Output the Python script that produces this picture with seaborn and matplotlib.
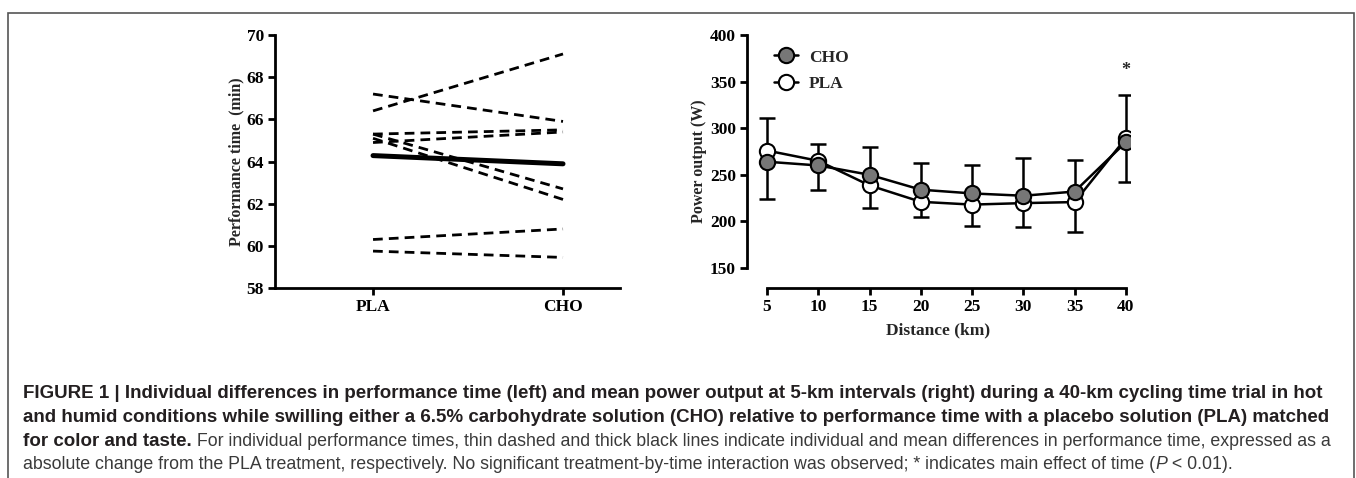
import seaborn as sns
import pandas as pd
import matplotlib.pyplot as plt
import numpy as np
from matplotlib.lines import Line2D
from matplotlib.patches import Rectangle

# left panel: individual performance times (min)
subjects = [1, 2, 3, 4, 5, 6, 7, 8]
pla_time = [66.4, 67.2, 65.3, 64.9, 65.3, 65.1, 60.3, 59.75]
cho_time = [69.1, 65.9, 65.5, 65.4, 62.7, 62.2, 60.8, 59.45]
conditions = ["PLA", "CHO"]
mean_time = [64.28, 63.89]

# right panel: mean power output (W) every 5 km
distance = [5, 10, 15, 20, 25, 30, 35, 40]
cho_power = [264, 260, 250, 234, 230, 227.5, 232, 285]
pla_power = [276, 265, 238.6, 221, 218, 219.6, 220.7, 289.3]
cho_sd = [40, 26, 30, 29, 31, 40, 34, 43]
pla_sd = [35, 18, 24.6, 16, 22.6, 25.6, 32, 46]

sns.set_theme(style="ticks")
plt.rcParams["font.family"] = ["Liberation Serif", "DejaVu Serif"]
plt.rcParams["font.weight"] = "bold"
plt.rcParams["axes.labelweight"] = "bold"

fig = plt.figure(figsize=(13.56, 4.78), dpi=100)
W, H = 1356, 478


def box(l, t, r, b):
    return [l / W, 1 - b / H, (r - l) / W, (b - t) / H]


# ---- left panel
ax1 = fig.add_axes(box(275, 35, 620, 288))
df = pd.DataFrame({
    "subject": subjects * 2,
    "condition": ["PLA"] * len(subjects) + ["CHO"] * len(subjects),
    "time": pla_time + cho_time,
})
sns.lineplot(data=df, x="condition", y="time", units="subject", estimator=None,
             color="black", linestyle=(0, (3.5, 2.2)), linewidth=2.0, ax=ax1)
sns.lineplot(x=conditions, y=mean_time, color="black", linewidth=3.6, ax=ax1)
ax1.set_xlim(-0.516, 1.3)
ax1.set_ylim(58, 70)
ax1.set_yticks(range(58, 71, 2))
ax1.set_xlabel("")
ax1.set_ylabel("Performance time  (min)", fontsize=11.5, labelpad=1)

# ---- right panel
ax2 = fig.add_axes(box(747, 35, 1130, 288))
cho = np.array(cho_power)
pla = np.array(pla_power)
for vals, sd, other in [(pla, np.array(pla_sd), cho), (cho, np.array(cho_sd), pla)]:
    lo = np.where(vals < other, sd, 0)
    hi = np.where(vals >= other, sd, 0)
    ax2.errorbar(distance, vals, yerr=[lo, hi], fmt="none", ecolor="black",
                 elinewidth=1.8, capsize=6, capthick=1.8, zorder=1)
sns.lineplot(x=distance, y=pla_power, color="black", linewidth=1.8, marker="o",
             markersize=11, markerfacecolor="white", markeredgecolor="black",
             markeredgewidth=1.5, ax=ax2, zorder=3)
sns.lineplot(x=distance, y=cho_power, color="black", linewidth=1.8, marker="o",
             markersize=11, markerfacecolor="#777777", markeredgecolor="black",
             markeredgewidth=1.5, ax=ax2, zorder=4)
ax2.set_xlim(3.05, 40.4)
ax2.set_ylim(128.5, 400)
ax2.set_yticks(range(150, 401, 50))
ax2.set_xticks(distance)
ax2.spines["left"].set_bounds(150, 400)
ax2.spines["bottom"].set_bounds(5, 40)
ax2.set_xlabel("Distance (km)", fontsize=12.5, labelpad=5)
ax2.set_ylabel("Power output (W)", fontsize=11.5, labelpad=2)
ax2.text(40, 362, "*", ha="center", va="center", fontsize=13, fontweight="bold")

handles = [
    Line2D([], [], color="black", lw=1.8, marker="o", markersize=11,
           markerfacecolor="#777777", markeredgecolor="black", markeredgewidth=1.5),
    Line2D([], [], color="black", lw=1.8, marker="o", markersize=11,
           markerfacecolor="white", markeredgecolor="black", markeredgewidth=1.5),
]
ax2.legend(handles, ["CHO", "PLA"], loc="upper left", bbox_to_anchor=(0.03, 1.005),
           frameon=False, handlelength=1.4, handletextpad=0.6, labelspacing=0.6,
           prop={"size": 12.5, "weight": "bold"})

for ax in (ax1, ax2):
    sns.despine(ax=ax)
    for s in ("left", "bottom"):
        ax.spines[s].set_linewidth(2)
        ax.spines[s].set_color("black")
    ax.tick_params(direction="out", length=5, width=2, colors="black",
                   labelsize=12.5, pad=3)
    for lab in ax.get_xticklabels() + ax.get_yticklabels():
        lab.set_fontweight("bold")

# ---- frame and caption
fig.add_artist(Rectangle((8 / W, -0.05), (1346 / W), 1.05 - 13 / H, transform=fig.transFigure,
                         fill=False, edgecolor="#555555", linewidth=1.2))

sans = ["Liberation Sans", "DejaVu Sans"]
fs_b = 13.5
fs_r = 12.8
bold_c = "#231f20"
reg_c = "#3a3a3a"
x0 = 23 / W
lines_y = [398, 422, 446, 469]
fig.text(x0, 1 - lines_y[0] / H,
         "FIGURE 1 | Individual differences in performance time (left) and mean power output at "
         "5-km intervals (right) during a 40-km cycling time trial in hot",
         fontweight="bold", color=bold_c, fontsize=fs_b, family=sans, va="baseline")
fig.text(x0, 1 - lines_y[1] / H,
         "and humid conditions while swilling either a 6.5% carbohydrate solution (CHO) relative "
         "to performance time with a placebo solution (PLA) matched",
         fontweight="bold", color=bold_c, fontsize=fs_b, family=sans, va="baseline")
t3 = fig.text(x0, 1 - lines_y[2] / H, "for color and taste.", fontweight="bold",
              color=bold_c, fontsize=fs_b, family=sans, va="baseline")
plt.annotate(" For individual performance times, thin dashed and thick black lines indicate "
             "individual and mean differences in performance time, expressed as a",
             xy=(1, 0), xycoords=t3, va="bottom", ha="left", fontweight="normal",
             color=reg_c, fontsize=fs_r, family=sans)
t4 = fig.text(x0, 1 - lines_y[3] / H,
              "absolute change from the PLA treatment, respectively. No significant "
              "treatment-by-time interaction was observed; * indicates main effect of time (",
              fontweight="normal", color=reg_c, fontsize=fs_r, family=sans, va="baseline")
t5 = plt.annotate("P", xy=(1, 0), xycoords=t4, va="bottom", ha="left", fontweight="normal",
                  fontstyle="italic", color=reg_c, fontsize=fs_r, family=sans)
plt.annotate(" < 0.01).", xy=(1, 0), xycoords=t5, va="bottom", ha="left",
             fontweight="normal", color=reg_c, fontsize=fs_r, family=sans)

fig.savefig("out.png", dpi=100)
